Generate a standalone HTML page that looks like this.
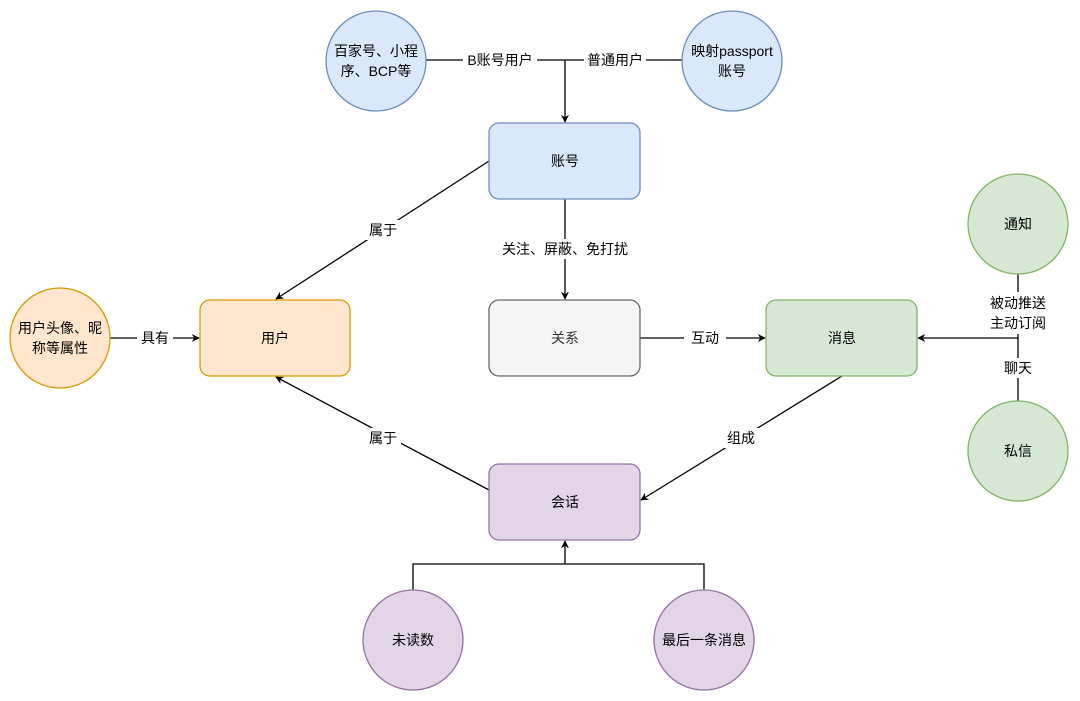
<!DOCTYPE html>
<html><head><meta charset="utf-8"><style>
html,body{margin:0;padding:0;background:#fff;}
svg{display:block;}
text{font-family:"Liberation Sans","Noto Sans CJK SC",sans-serif;font-size:14px;fill:#000;text-anchor:middle;dominant-baseline:central;}
</style></head><body>
<svg width="1080" height="701" viewBox="0 0 1080 701" xmlns="http://www.w3.org/2000/svg">
<defs>
<marker id="a" viewBox="0 0 10 10" refX="9" refY="5" markerWidth="8" markerHeight="8" orient="auto-start-reverse" markerUnits="userSpaceOnUse">
<path d="M0,0 L10,5 L0,10 L3,5 z" fill="#000"/></marker>
</defs>
<g stroke="#000" stroke-width="1.3" fill="none">
<line x1="426" y1="60" x2="682" y2="60"/>
<line x1="565" y1="60" x2="565" y2="122" marker-end="url(#a)"/>
<line x1="489" y1="161" x2="276" y2="299" marker-end="url(#a)"/>
<line x1="565" y1="199" x2="565" y2="299" marker-end="url(#a)"/>
<line x1="640" y1="338" x2="765" y2="338" marker-end="url(#a)"/>
<line x1="489" y1="490" x2="276" y2="377" marker-end="url(#a)"/>
<line x1="842" y1="376" x2="641" y2="500" marker-end="url(#a)"/>
<line x1="110" y1="338" x2="199" y2="338" marker-end="url(#a)"/>
<line x1="1018" y1="274" x2="1018" y2="401"/>
<line x1="1018" y1="338" x2="918" y2="338" marker-end="url(#a)"/>
<polyline points="413,590 413,564 704,564 704,590"/>
<line x1="565" y1="564" x2="565" y2="541" marker-end="url(#a)"/>
</g>
<g stroke-width="1.3">
<circle cx="376" cy="61" r="50" fill="#dae8fc" stroke="#6c8ebf"/>
<circle cx="732" cy="61" r="50" fill="#dae8fc" stroke="#6c8ebf"/>
<circle cx="60" cy="338" r="50" fill="#ffe6cc" stroke="#d79b00"/>
<circle cx="1018" cy="224" r="50" fill="#d5e8d4" stroke="#82b366"/>
<circle cx="1018" cy="451" r="50" fill="#d5e8d4" stroke="#82b366"/>
<circle cx="413" cy="640" r="50" fill="#e1d5e7" stroke="#9673a6"/>
<circle cx="704" cy="640" r="50" fill="#e1d5e7" stroke="#9673a6"/>
<rect x="489" y="123" width="151" height="76" rx="10" fill="#dae8fc" stroke="#6c8ebf"/>
<rect x="200" y="300" width="150" height="76" rx="10" fill="#ffe6cc" stroke="#d79b00"/>
<rect x="489" y="300" width="151" height="76" rx="10" fill="#f5f5f5" stroke="#666666"/>
<rect x="766" y="300" width="151" height="76" rx="10" fill="#d5e8d4" stroke="#82b366"/>
<rect x="489" y="464" width="151" height="76" rx="10" fill="#e1d5e7" stroke="#9673a6"/>
</g>
<g fill="#fff">
<rect x="463" y="50" width="74" height="20"/>
<rect x="584" y="50" width="62" height="20"/>
<rect x="365" y="220" width="36" height="20"/>
<rect x="494" y="239" width="142" height="20"/>
<rect x="684" y="328" width="42" height="20"/>
<rect x="365" y="428" width="36" height="20"/>
<rect x="723" y="428" width="36" height="20"/>
<rect x="137" y="328" width="36" height="20"/>
<rect x="985" y="292" width="66" height="42"/>
<rect x="1001" y="358" width="34" height="20"/>
</g>
<text x="376" y="51">百家号、小程</text>
<text x="376" y="71">序、BCP等</text>
<text x="732" y="51">映射passport</text>
<text x="732" y="71">账号</text>
<text x="500" y="60">B账号用户</text>
<text x="615" y="60">普通用户</text>
<text x="565" y="161">账号</text>
<text x="383" y="230">属于</text>
<text x="565" y="249">关注、屏蔽、免打扰</text>
<text x="275" y="338">用户</text>
<text x="565" y="338" style="fill:#333">关系</text>
<text x="842" y="338">消息</text>
<text x="705" y="338">互动</text>
<text x="155" y="338">具有</text>
<text x="60" y="328">用户头像、昵</text>
<text x="60" y="348">称等属性</text>
<text x="1018" y="224">通知</text>
<text x="1018" y="451">私信</text>
<text x="1018" y="303">被动推送</text>
<text x="1018" y="323">主动订阅</text>
<text x="1018" y="368">聊天</text>
<text x="383" y="438">属于</text>
<text x="741" y="438">组成</text>
<text x="565" y="502">会话</text>
<text x="413" y="640">未读数</text>
<text x="704" y="640">最后一条消息</text>
</svg>
</body></html>
